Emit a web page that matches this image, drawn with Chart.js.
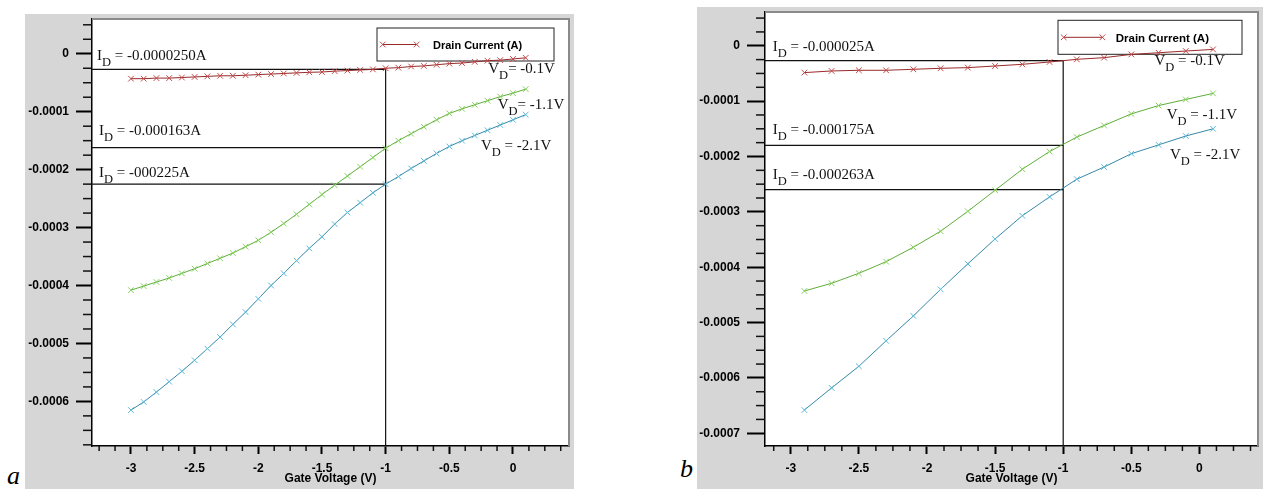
<!DOCTYPE html>
<html>
<head>
<meta charset="utf-8">
<script src="https://cdn.jsdelivr.net/npm/chart.js@4.4.0/dist/chart.umd.min.js"></script>
<style>
  body { margin: 0; width: 1263px; height: 489px; background: #fff; position: relative; overflow: hidden; }
  canvas { position: absolute; background: #d6d6d6; }
  #ca { left: 25px; top: 14px; }
  #cb { left: 697px; top: 7px; }
  .tag { position: absolute; font: italic 26px "Liberation Serif", "Times New Roman", serif; line-height: 26px; }
</style>
</head>
<body>
<canvas id="ca" width="549" height="475"></canvas>
<canvas id="cb" width="566" height="482"></canvas>
<div class="tag" style="left:7px; top:463px">a</div>
<div class="tag" style="left:680px; top:456px">b</div>
<script>
// panel a : gate sweep in 0.1 V steps
var gateA = [-3.0, -2.9, -2.8, -2.7, -2.6, -2.5, -2.4, -2.3, -2.2, -2.1, -2.0, -1.9, -1.8, -1.7, -1.6, -1.5,
             -1.4, -1.3, -1.2, -1.1, -1.0, -0.9, -0.8, -0.7, -0.6, -0.5, -0.4, -0.3, -0.2, -0.1, 0.0, 0.1];
var idA_vd01 = [-43e-6, -43e-6, -42e-6, -42e-6, -41e-6, -40e-6, -39e-6, -38e-6, -38e-6, -37e-6, -36e-6, -35e-6, -34e-6, -33e-6, -32e-6, -31.5e-6,
                -30e-6, -29e-6, -28e-6, -27e-6, -25e-6, -24e-6, -22e-6, -21e-6, -19e-6, -17e-6, -16e-6, -14e-6, -12e-6, -11e-6, -9e-6, -7e-6];
var idA_vd11 = [-408e-6, -401e-6, -394e-6, -387e-6, -379e-6, -371e-6, -362e-6, -353e-6, -344e-6, -333e-6, -322e-6, -308e-6, -293e-6, -277e-6, -260e-6, -243e-6,
                -227e-6, -211e-6, -195e-6, -179e-6, -163e-6, -150e-6, -138e-6, -126e-6, -114e-6, -103e-6, -95e-6, -88e-6, -81e-6, -74e-6, -68e-6, -61e-6];
var idA_vd21 = [-615e-6, -601e-6, -584e-6, -566e-6, -548e-6, -529e-6, -509e-6, -489e-6, -467e-6, -446e-6, -423e-6, -400e-6, -379e-6, -357e-6, -336e-6, -316e-6,
                -294e-6, -274e-6, -257e-6, -240e-6, -225e-6, -212e-6, -198e-6, -185e-6, -172e-6, -160e-6, -150e-6, -141e-6, -132e-6, -123e-6, -114e-6, -105e-6];

// panel b : gate sweep in 0.2 V steps
var gateB = [-2.9, -2.7, -2.5, -2.3, -2.1, -1.9, -1.7, -1.5, -1.3, -1.1, -0.9, -0.7, -0.5, -0.3, -0.1, 0.1];
var idB_vd01 = [-48.5e-6, -45.5e-6, -44.3e-6, -44.3e-6, -42.5e-6, -40.7e-6, -39.5e-6, -36.5e-6, -33.5e-6, -29.3e-6, -24.5e-6, -21.5e-6, -15.6e-6, -12.6e-6, -9.5e-6, -6.6e-6];
var idB_vd11 = [-443e-6, -429e-6, -411e-6, -390e-6, -364e-6, -335e-6, -299e-6, -261e-6, -223e-6, -191e-6, -165e-6, -144e-6, -123e-6, -108e-6, -97e-6, -86e-6];
var idB_vd21 = [-658e-6, -618e-6, -579e-6, -533e-6, -488e-6, -440e-6, -394e-6, -349e-6, -307e-6, -273e-6, -241e-6, -219e-6, -195e-6, -179e-6, -163e-6, -150e-6];

// tick labels
var yTickVals = [0, -0.0001, -0.0002, -0.0003, -0.0004, -0.0005, -0.0006, -0.0007];
var yTickText = ['0', '-0.0001', '-0.0002', '-0.0003', '-0.0004', '-0.0005', '-0.0006', '-0.0007'];
var xTickVals = [-3, -2.5, -2, -1.5, -1, -0.5, 0];
var xTickText = ['-3', '-2.5', '-2', '-1.5', '-1', '-0.5', '0'];

var legendText = 'Drain Current (A)';

// reference lines drawn at gate = -1 V
var notesA = {
  cutX: -1,
  levels: [-0.000027, -0.000162, -0.000225],
  idText: [' = -0.0000250A', ' = -0.000163A', ' = -000225A'],
  idPos: [[5, 9.4], [7, 12.9], [7, 7.2]],
  vdText: ['= -0.1V', '= -1.1V', ' = -2.1V'],
  vdPos: [[-0.194, -0.0000339], [-0.120, -0.0000950], [-0.251, -0.0001655]],
  legend: { right: 15, top: 9, w: 177, h: 33, l0: 5.7, l1: 39.7, tx: 56, size: 11 }
};
var notesB = {
  cutX: -1,
  levels: [-0.000027, -0.00018, -0.00026],
  idText: [' = -0.000025A', ' = -0.000175A', ' = -0.000263A'],
  idPos: [[7.7, 9.7], [7.7, 11], [7.7, 11.1]],
  vdText: [' = -0.1V', ' = -1.1V', ' = -2.1V'],
  vdPos: [[-0.33, -0.0000341], [-0.240, -0.0001323], [-0.216, -0.0002041]],
  legend: { right: 16, top: 8.3, w: 184, h: 34, l0: 5.7, l1: 44.4, tx: 57.7, size: 11.5 }
};

var SERIF = '"Liberation Serif", "Times New Roman", serif';

function subLabel(ctx, x, y, head, rest) {
  ctx.font = '15px ' + SERIF;
  ctx.fillText(head, x, y);
  x += ctx.measureText(head).width;
  ctx.font = '12.5px ' + SERIF;
  ctx.fillText('D', x, y + 6);
  x += ctx.measureText('D').width;
  ctx.font = '15px ' + SERIF;
  ctx.fillText(rest, x, y);
}

function cross(ctx, x, y, r) {
  ctx.beginPath();
  ctx.moveTo(x - r, y - r); ctx.lineTo(x + r, y + r);
  ctx.moveTo(x - r, y + r); ctx.lineTo(x + r, y - r);
  ctx.stroke();
}

function minorTicks(chart, id, step, major, len) {
  var s = chart.scales[id], a = chart.chartArea, ctx = chart.ctx;
  ctx.save();
  ctx.strokeStyle = '#111';
  ctx.lineWidth = 1.5;
  for (var k = Math.ceil(s.min / step); k <= Math.floor(s.max / step); k++) {
    var v = k * step;
    var r = v / major;
    if (Math.abs(r - Math.round(r)) < 1e-6) continue;
    var p = s.getPixelForValue(v);
    ctx.beginPath();
    if (s.isHorizontal()) { ctx.moveTo(p, a.bottom); ctx.lineTo(p, a.bottom + len); }
    else { ctx.moveTo(a.left, p); ctx.lineTo(a.left - len, p); }
    ctx.stroke();
  }
  ctx.restore();
}

function makeNotes(n) {
  return {
    id: 'notes',
    beforeDraw: function (chart) {
      var a = chart.chartArea, ctx = chart.ctx;
      ctx.save();
      ctx.fillStyle = '#fff';
      ctx.fillRect(a.left, a.top, a.right - a.left, a.bottom - a.top);
      ctx.restore();
    },
    beforeDatasetsDraw: function (chart) {
      var a = chart.chartArea, ctx = chart.ctx, x = chart.scales.x, y = chart.scales.y;
      var L = n.legend;
      ctx.save();
      // legend box
      var bx = a.right - L.right - L.w, by = a.top + L.top;
      ctx.strokeStyle = '#222';
      ctx.lineWidth = 1;
      ctx.strokeRect(bx, by, L.w, L.h);
      var ly = by + L.h / 2;
      ctx.strokeStyle = '#9a2a2a';
      ctx.beginPath(); ctx.moveTo(bx + L.l0, ly); ctx.lineTo(bx + L.l1, ly); ctx.stroke();
      ctx.strokeStyle = '#c44a4a';
      cross(ctx, bx + L.l0, ly, 2.8);
      cross(ctx, bx + L.l1, ly, 2.8);
      ctx.fillStyle = '#000';
      ctx.font = 'bold ' + L.size + 'px "Liberation Sans", Arial, sans-serif';
      ctx.textBaseline = 'middle';
      ctx.fillText(legendText, bx + L.tx, ly + 1.5);
      // reference lines
      var cx = x.getPixelForValue(n.cutX);
      ctx.strokeStyle = '#111';
      ctx.lineWidth = 1.2;
      n.levels.forEach(function (lv) {
        var py = y.getPixelForValue(lv);
        ctx.beginPath(); ctx.moveTo(a.left, py); ctx.lineTo(cx, py); ctx.stroke();
      });
      ctx.beginPath();
      ctx.moveTo(cx, y.getPixelForValue(n.levels[0]));
      ctx.lineTo(cx, a.bottom);
      ctx.stroke();
      ctx.restore();
    },
    afterDraw: function (chart) {
      var a = chart.chartArea, ctx = chart.ctx, x = chart.scales.x, y = chart.scales.y;
      ctx.save();
      // grey frame on top and right
      ctx.strokeStyle = '#8a8a8a';
      ctx.lineWidth = 2;
      ctx.beginPath();
      ctx.moveTo(a.left, a.top); ctx.lineTo(a.right, a.top); ctx.lineTo(a.right, a.bottom);
      ctx.stroke();
      ctx.restore();
      minorTicks(chart, 'y', 0.000025, 0.0001, 9);
      minorTicks(chart, 'x', 0.125, 0.5, 5);
      ctx.save();
      ctx.fillStyle = '#111';
      ctx.textBaseline = 'alphabetic';
      n.idText.forEach(function (t, i) {
        var py = y.getPixelForValue(n.levels[i]);
        subLabel(ctx, a.left + n.idPos[i][0], py - n.idPos[i][1], 'I', t);
      });
      n.vdText.forEach(function (t, i) {
        subLabel(ctx, x.getPixelForValue(n.vdPos[i][0]), y.getPixelForValue(n.vdPos[i][1]), 'V', t);
      });
      ctx.restore();
    }
  };
}

function pts(xs, ys) {
  return xs.map(function (g, i) { return { x: g, y: ys[i] }; });
}

function series(data, line, mark) {
  return {
    data: data,
    borderColor: line,
    borderWidth: 1,
    pointStyle: 'crossRot',
    pointRadius: 4,
    pointBorderColor: mark,
    pointBorderWidth: 1,
    fill: false,
    tension: 0
  };
}

var tickFont = { family: '"Liberation Sans", Arial, sans-serif', size: 12, weight: 'bold' };

function ascending(vals) {
  return vals.slice().sort(function (p, q) { return p - q; }).map(function (v) { return { value: v }; });
}

function makeChart(id, xs, s1, s2, s3, xr, yr, pad, yWidth, yTickLen, nYTicks, notes) {
  var ctx = document.getElementById(id).getContext('2d');
  return new Chart(ctx, {
    type: 'line',
    data: {
      datasets: [
        series(pts(xs, s1), '#9a2a2a', '#c44a4a'),
        series(pts(xs, s2), '#5fae3a', '#84d25a'),
        series(pts(xs, s3), '#3689a8', '#5cbad8')
      ]
    },
    options: {
      responsive: false,
      animation: false,
      devicePixelRatio: 1,
      layout: { padding: pad },
      plugins: { legend: { display: false }, tooltip: { enabled: false } },
      scales: {
        x: {
          type: 'linear',
          min: xr[0], max: xr[1],
          afterBuildTicks: function (s) { s.ticks = ascending(xTickVals); },
          afterFit: function (s) { s.height = 43; s.paddingLeft = 0; s.paddingRight = 0; },
          ticks: {
            autoSkip: false, maxRotation: 0, padding: 7, color: '#000', font: tickFont,
            callback: function (v) { return xTickText[xTickVals.indexOf(v)]; }
          },
          grid: { drawOnChartArea: false, tickLength: 8, tickWidth: 2, tickColor: '#000' },
          border: { color: '#000', width: 1.5 },
          title: { display: true, text: 'Gate Voltage (V)', color: '#000', font: tickFont, padding: { top: 0, bottom: 3 } }
        },
        y: {
          min: yr[0], max: yr[1],
          afterBuildTicks: function (s) { s.ticks = ascending(yTickVals.slice(0, nYTicks)); },
          afterFit: function (s) { s.width = yWidth; s.paddingTop = 0; s.paddingBottom = 0; },
          ticks: {
            padding: 7, color: '#000', font: tickFont,
            callback: function (v) { return yTickText[yTickVals.indexOf(v)]; }
          },
          grid: { drawOnChartArea: false, tickLength: yTickLen, tickWidth: 2, tickColor: '#000' },
          border: { color: '#000', width: 1.5 }
        }
      }
    },
    plugins: [makeNotes(notes)]
  });
}

makeChart('ca', gateA, idA_vd01, idA_vd11, idA_vd21, [-3.306, 0.44], [-0.000677, 0.00006],
          { top: 3, right: 5, left: 0, bottom: 0 }, 67, 16, 7, notesA);
makeChart('cb', gateB, idB_vd01, idB_vd11, idB_vd21, [-3.189, 0.43], [-0.000723, 0.000061],
          { top: 2, right: 1, left: 0, bottom: 0 }, 68, 18, 8, notesB);
</script>
</body>
</html>
